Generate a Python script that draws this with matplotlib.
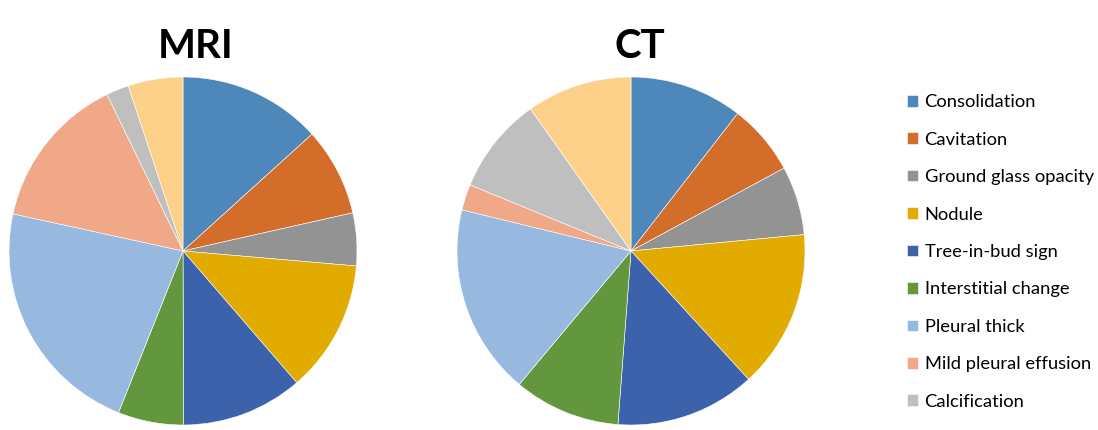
import matplotlib
matplotlib.use("Agg")
import matplotlib.pyplot as plt

plt.rcParams['font.family'] = ['Lato', 'DejaVu Sans']

# categories (the last slice has no legend entry in the original figure)
categories = ['Consolidation', 'Cavitation', 'Ground glass opacity', 'Nodule',
              'Tree-in-bud sign', 'Interstitial change', 'Pleural thick',
              'Mild pleural effusion', 'Calcification', 'Other']

# share of each finding (%)
mri_values = [13.3, 8.2, 4.9, 12.3, 11.3, 6.1, 22.4, 14.4, 2.1, 5.1]
ct_values = [10.5, 6.6, 6.4, 14.7, 13.0, 9.9, 17.7, 2.4, 9.0, 9.8]

colors = ['#4E88BA', '#D36E2A', '#939393', '#E2AB00', '#3B62AA',
          '#63973D', '#98B9DF', '#F0A889', '#BFBFBF', '#FED18A']

W, H = 1098, 430
fig = plt.figure(figsize=(W / 100, H / 100), dpi=100)

r = 174


def pie_axes(cx, cy):
    return fig.add_axes([(cx - r) / W, (H - cy - r) / H, 2 * r / W, 2 * r / H])


ax1 = pie_axes(183, 251)
ax2 = pie_axes(631, 251)

wedges = None
for ax, vals in [(ax1, mri_values), (ax2, ct_values)]:
    w, _ = ax.pie(vals, colors=colors, startangle=90, counterclock=False,
                  radius=1.0, wedgeprops=dict(linewidth=0.4, edgecolor='white'))
    ax.set_xlim(-1.0, 1.0)
    ax.set_ylim(-1.0, 1.0)
    if wedges is None:
        wedges = w

fig.text(196 / W, 1 - 47 / H, 'MRI', ha='center', va='center',
         fontsize=29, fontweight='bold')
fig.text(640 / W, 1 - 47 / H, 'CT', ha='center', va='center',
         fontsize=29, fontweight='bold')

fig.legend(wedges[:9], categories[:9], loc='upper left',
           bbox_to_anchor=(898 / W, 1 - 85 / H), frameon=False,
           fontsize=13.2, handlelength=0.6, handleheight=0.6,
           handletextpad=0.35, labelspacing=1.17, borderpad=0)

fig.savefig('out.png', dpi=100)
